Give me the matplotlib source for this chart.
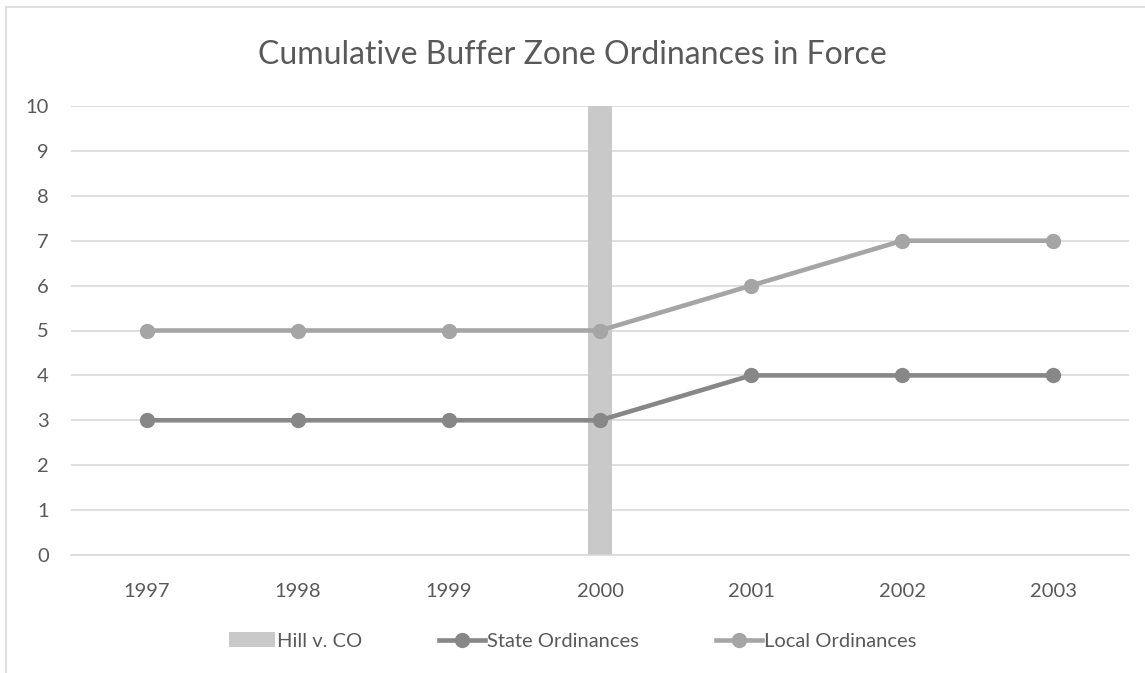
import matplotlib.pyplot as plt
from matplotlib.patches import Rectangle

years = ["1997", "1998", "1999", "2000", "2001", "2002", "2003"]
state_ordinances = [3, 3, 3, 3, 4, 4, 4]
local_ordinances = [5, 5, 5, 5, 6, 7, 7]
hill_v_co = [0, 0, 0, 10, 0, 0, 0]

plt.rcParams['font.family'] = ['Lato', 'DejaVu Sans']
text_color = "#595959"
grid_color = "#D9D9D9"

fig = plt.figure(figsize=(11.45, 6.73), dpi=100)
ax = fig.add_axes([71 / 1145, 1 - 555 / 673, 1058 / 1145, 449 / 673])

# chart frame, cut off at the right and bottom like the source
fig.patches.append(Rectangle((6 / 1145, -0.1), 1.2, 1 - 7 / 673 + 0.1,
                             transform=fig.transFigure, fill=False,
                             edgecolor=grid_color, linewidth=1.2))

x = list(range(len(years)))
bar = ax.bar(x, hill_v_co, width=0.165, color="#C9C9C9", label="Hill v. CO", zorder=2)
state_line, = ax.plot(x, state_ordinances, color="#878787", linewidth=3.3, marker="o",
                      markersize=10, label="State Ordinances", zorder=3)
local_line, = ax.plot(x, local_ordinances, color="#A5A5A5", linewidth=3.3, marker="o",
                      markersize=10, label="Local Ordinances", zorder=3)

ax.set_xlim(-0.5, len(years) - 0.5)
ax.set_ylim(0, 10)
ax.set_yticks(range(0, 11))
ax.set_xticks(x)
ax.set_xticklabels(years)
ax.grid(axis="y", color=grid_color, linewidth=1.2, zorder=0)
ax.set_axisbelow(True)
for side in ["top", "right", "left"]:
    ax.spines[side].set_visible(False)
ax.spines["bottom"].set_color(grid_color)
ax.spines["bottom"].set_linewidth(1.2)
ax.tick_params(length=0, labelsize=14.5, colors=text_color, pad=20)
ax.tick_params(axis="y", pad=16)

fig.text(0.5, 1 - 55 / 673, "Cumulative Buffer Zone Ordinances in Force",
         ha="center", va="center", fontsize=23, color=text_color)

fig.legend([bar, state_line, local_line],
           ["Hill v. CO", "State Ordinances", "Local Ordinances"],
           loc="center", bbox_to_anchor=(0.5, 1 - 641 / 673), ncol=3,
           frameon=False, fontsize=14.5, labelcolor=text_color,
           handlelength=2.3, handletextpad=0.1, columnspacing=3.8)

fig.savefig("out.png", dpi=100)
